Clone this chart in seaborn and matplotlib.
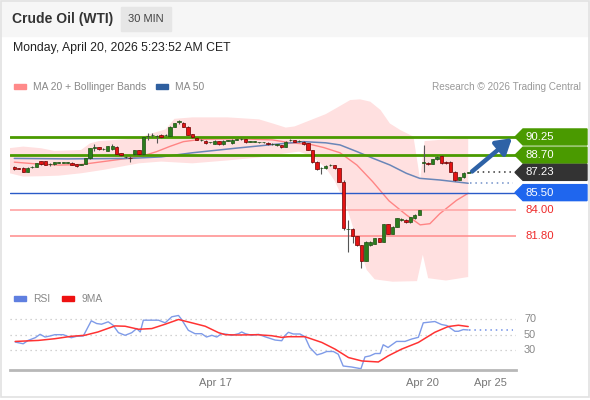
import numpy as np
import matplotlib
matplotlib.use("Agg")
import matplotlib.pyplot as plt
from matplotlib.patches import Rectangle, Polygon
import seaborn as sns

# --- 30 min candles (index 0..102) ---
opens = [87.69, 87.55, 87.63, 87.30, 87.66, 87.72, 88.17, 88.17, 87.92, 87.92,
         88.07, 88.07, 88.05, 88.06, 87.92, 87.90, 87.95, 88.43, 89.35, 89.37,
         89.20, 89.08, 89.20, 89.40, 88.86, 88.52, 88.45, 88.77, 89.14, 88.77,
         90.30, 90.40, 90.31, 90.42, 90.40, 90.33, 91.13, 91.52, 91.45, 91.13,
         90.50, 90.13, 89.98, 89.93, 89.78, 89.65, 89.90, 89.62, 89.93, 89.70,
         90.00, 90.04, 90.05, 89.85, 89.82, 89.79, 89.78, 89.76, 89.62, 89.56,
         89.56, 89.42, 89.97, 89.99, 89.88, 89.85, 89.70, 89.10, 88.15, 87.58,
         87.60, 87.84, 87.85, 87.58, 86.44, 82.38, 82.40, 81.80, 81.00, 79.70,
         81.04, 81.12, 81.60, 81.32, 82.80, 82.00, 82.60, 83.18, 83.20, 83.00,
         83.30, 83.60, 88.04, 88.06, 87.95, 88.35, 88.63, 88.15, 88.15, 87.30,
         86.60, 86.80, 87.21]
closes = [87.52, 87.53, 87.30, 87.63, 87.72, 88.00, 87.95, 87.86, 87.95, 88.09,
          88.09, 88.09, 88.07, 87.86, 87.78, 87.92, 88.43, 89.28, 89.37, 89.20,
          89.22, 89.48, 89.45, 88.82, 88.71, 88.54, 88.43, 89.14, 88.77, 90.22,
          90.33, 90.42, 90.33, 90.22, 90.42, 91.13, 91.40, 91.55, 91.13, 90.42,
          90.25, 90.02, 90.00, 89.72, 89.80, 89.93, 89.62, 89.93, 89.95, 90.02,
          90.02, 90.06, 89.78, 89.87, 89.84, 89.81, 89.80, 89.62, 89.64, 89.58,
          89.38, 89.85, 89.99, 89.82, 89.90, 89.62, 89.15, 88.10, 87.50, 87.60,
          87.80, 87.86, 87.58, 86.44, 82.46, 82.42, 81.80, 81.00, 79.70, 81.30,
          81.32, 81.60, 81.32, 82.80, 82.00, 82.60, 83.30, 83.22, 83.00, 83.40,
          83.60, 84.00, 88.08, 87.95, 88.35, 88.57, 88.00, 88.00, 87.30, 86.60,
          86.80, 87.20, 87.23]
highs = [87.80, 87.62, 87.68, 87.68, 87.80, 88.05, 88.20, 88.20, 88.00, 88.12,
         88.14, 88.14, 88.12, 88.10, 87.96, 87.98, 88.48, 89.32, 89.62, 89.42,
         89.28, 89.52, 89.62, 89.45, 88.90, 88.60, 88.62, 89.18, 89.18, 90.26,
         90.56, 90.58, 90.45, 90.50, 90.52, 91.18, 91.45, 91.68, 91.50, 91.16,
         90.54, 90.18, 90.06, 89.98, 89.86, 89.97, 89.94, 89.97, 90.02, 90.06,
         90.08, 90.12, 90.08, 89.92, 89.90, 89.86, 89.86, 89.80, 89.70, 89.64,
         89.60, 89.90, 90.06, 90.03, 89.96, 89.90, 89.74, 89.14, 88.18, 87.66,
         87.85, 87.92, 87.90, 87.62, 86.55, 83.15, 82.45, 81.84, 81.05, 81.35,
         81.38, 81.65, 81.65, 82.85, 82.85, 82.65, 83.35, 83.30, 83.25, 83.45,
         83.65, 84.05, 89.57, 88.12, 88.40, 88.62, 88.72, 88.20, 88.20, 87.35,
         86.85, 87.25, 87.28]
lows = [87.45, 87.48, 87.25, 87.27, 87.60, 87.68, 87.90, 87.82, 87.80, 87.88,
        88.02, 88.03, 88.00, 87.82, 87.72, 87.85, 87.92, 88.40, 89.08, 89.15,
        89.12, 89.05, 89.15, 88.78, 88.65, 88.42, 88.08, 88.74, 88.74, 88.74,
        90.00, 90.26, 89.76, 90.18, 90.32, 90.30, 91.10, 91.35, 91.10, 90.38,
        90.20, 89.98, 89.94, 89.68, 89.74, 89.62, 89.58, 89.60, 89.88, 89.66,
        89.95, 90.00, 89.74, 89.80, 89.78, 89.74, 89.74, 89.58, 89.56, 89.50,
        89.34, 89.38, 89.92, 89.78, 89.84, 89.58, 89.10, 88.05, 87.45, 87.05,
        87.55, 87.80, 87.54, 86.40, 82.30, 80.47, 81.18, 80.95, 79.05, 79.65,
        80.98, 81.08, 81.26, 81.28, 81.95, 81.95, 82.55, 83.10, 82.95, 82.95,
        83.25, 83.55, 87.30, 87.90, 87.92, 88.32, 87.96, 87.95, 87.25, 86.50,
        86.55, 86.75, 87.16]

# --- indicator lines (candle index, value) ---
ma20_x = [0, 5, 10, 15, 18, 22, 26, 29, 32, 35, 38, 42, 50, 58, 62, 66.5, 69.5,
          73.2, 77, 80.5, 84.2, 88.1, 91.2, 93.4, 95.6, 99.4, 102]
ma20_y = [88.1, 87.95, 87.85, 87.9, 88.05, 88.25, 88.45, 88.65, 89.0, 89.45, 89.85,
          90.05, 90.1, 90.0, 89.75, 89.62, 89.35, 88.9, 87.85, 86.45, 84.8, 83.6,
          82.75, 82.85, 83.7, 84.85, 85.45]
ma50_x = [0, 12, 26, 33, 40, 50, 58, 65, 70, 73.2, 77, 80.6, 84.4, 88.1, 91.1, 95.6, 102]
ma50_y = [88.42, 88.38, 88.42, 88.55, 88.9, 89.3, 89.6, 89.85, 89.75, 89.57, 89.0,
          88.43, 87.86, 87.15, 86.72, 86.58, 86.3]
bb_up_x = [-1, 2, 6, 9, 15, 17, 19, 23, 28, 30, 34, 36, 40, 48, 55, 58, 61, 63, 66,
           70, 73, 75.5, 77.7, 80, 82.3, 84.4, 86.7, 89.7, 91.2, 92.2, 95.6, 102]
bb_up_y = [89.3, 89.43, 89.29, 89.06, 89.14, 89.7, 89.9, 90.0, 90.15, 90.45, 90.9,
           91.8, 91.92, 91.92, 91.75, 91.41, 91.05, 91.15, 91.6, 92.2, 92.85, 93.4,
           93.46, 93.26, 92.55, 91.4, 90.85, 90.28, 86.6, 89.9, 90.0, 90.14]
bb_lo_x = [-1, 2, 6, 10, 15, 20, 28, 33, 40, 48, 55, 60, 64, 67, 70, 72, 74.7, 77,
           79.2, 81, 85, 90.5, 91.8, 93, 97, 102]
bb_lo_y = [87.15, 86.87, 86.9, 86.95, 87.15, 87.44, 88.0, 88.15, 88.0, 88.25, 88.5,
           88.8, 89.0, 88.6, 87.6, 86.5, 84.3, 81.46, 78.9, 78.1, 77.9, 77.95, 80.2,
           78.2, 78.0, 78.3]

rsi_x = [0.2, 2, 3.1, 4.7, 5.8, 6.9, 8, 9.1, 11, 12.8, 14, 15.5, 17.3, 18.5, 19.6,
         21.1, 22.2, 23.4, 24.9, 26.4, 27.5, 28.3, 29, 30.9, 32.4, 33.9, 35.4, 36.9,
         37.6, 39.1, 40.6, 42.1, 43.2, 44.4, 45.5, 46.6, 47.8, 48.9, 50.4, 51.1, 51.9,
         53.4, 54.9, 56.3, 58.6, 60.1, 60.8, 61.6, 62.7, 64.2, 65.3, 66.4, 68, 69.1,
         70.2, 71.7, 72.8, 73.9, 75.8, 77.9, 78.8, 79.9, 81.1, 82.2, 82.9, 84, 85.9,
         87.8, 89.3, 90.8, 91.9, 94.5, 96, 97.2, 99, 99.8, 100.9, 102]
rsi_y = [40.9, 38.7, 43.0, 46.5, 50.9, 47.4, 48.7, 50.4, 50.4, 46.5, 48.3, 48.7, 68.3,
         64.8, 63.9, 67.0, 62.6, 53.0, 49.6, 53.0, 58.3, 53.9, 69.1, 69.1, 69.1, 65.7,
         73.5, 75.2, 70.0, 56.1, 51.7, 51.7, 47.4, 49.6, 47.4, 51.7, 50.9, 49.6, 51.7,
         53.9, 51.7, 49.6, 50.9, 47.8, 43.5, 42.6, 49.1, 53.5, 51.3, 51.3, 47.8, 33.9,
         24.3, 26.1, 28.7, 28.7, 25.2, 10.0, 8.7, 6.5, 21.7, 23.0, 26.1, 26.1, 37.4,
         33.9, 41.7, 41.7, 44.8, 47.0, 65.7, 67.4, 63.5, 62.2, 54.8, 54.8, 57.0, 56.5]
ma9_x = [0.2, 5.4, 9.1, 12.8, 15.8, 18.8, 22.6, 24.9, 27.9, 30.9, 33.9, 36.9, 39.9,
         42.9, 45.9, 47.4, 50.4, 54.5, 57.8, 60.1, 61.6, 65.3, 69.1, 72.1, 75.1, 78.1,
         81.8, 84, 87, 90.8, 94.5, 97.5, 99.8, 102]
ma9_y = [41.7, 43.0, 45.2, 48.3, 49.6, 53.9, 61.7, 61.3, 57.4, 58.3, 63.9, 70.0, 65.7,
         61.3, 53.0, 50.4, 50.0, 50.4, 49.1, 46.9, 47.8, 47.8, 40.4, 31.7, 20.9, 16.5,
         15.2, 23.0, 31.7, 40.4, 53.5, 60.9, 62.6, 60.9]

levels = [90.25, 88.70, 87.23, 85.50, 84.00, 81.80]
rsi_levels = [70, 50, 30]
date_ticks = ["Apr 17", "Apr 20", "Apr 25"]
date_pos = [45.1, 91.8, 106.9]

sns.set_style("white")
plt.rcParams["font.family"] = ["Liberation Sans", "DejaVu Sans"]

W, H = 590, 400
fig = plt.figure(figsize=(W / 100, H / 100), dpi=100)


def px2i(px):
    return (px - 14.3) / 4.45


def fx(px):
    return px / W


def fy(py):
    return 1 - py / H


# header strip and frame
fig.patches.append(Rectangle((0, fy(36)), 1, 36 / H, transform=fig.transFigure,
                             color="#f6f6f6", zorder=0))
fig.patches.append(Rectangle((fx(121), fy(31)), 50 / W, 24 / H, transform=fig.transFigure,
                             color="#e6e6e6", zorder=1))
fig.patches.append(Rectangle((fx(0.5), fy(397)), 588 / W, 396.5 / H, transform=fig.transFigure,
                             fill=False, edgecolor="#e2e2e2", lw=1.2, zorder=1))
fig.text(fx(12), fy(19), "Crude Oil (WTI)", fontsize=10, fontweight="bold", color="#333333", va="center")
fig.text(fx(146), fy(19), "30 MIN", fontsize=8, color="#444444", va="center", ha="center")
fig.text(fx(13), fy(48), "Monday, April 20, 2026 5:23:52 AM CET", fontsize=8.8, color="#222222", va="center")

fig.patches.append(Rectangle((fx(14), fy(89)), 12 / W, 5 / H, transform=fig.transFigure, color="#ff8a8a"))
fig.text(fx(33), fy(86.5), "MA 20 + Bollinger Bands", fontsize=7.4, color="#888888", va="center")
fig.patches.append(Rectangle((fx(156), fy(89)), 12 / W, 5 / H, transform=fig.transFigure, color="#2f5f9f"))
fig.text(fx(175), fy(86.5), "MA 50", fontsize=7.4, color="#888888", va="center")
fig.text(fx(581), fy(86.5), "Research \u00a9 2026 Trading Central", fontsize=7.2, color="#999999",
         va="center", ha="right")

fig.patches.append(Rectangle((fx(14), fy(301)), 12 / W, 5 / H, transform=fig.transFigure, color="#5f7fe0"))
fig.text(fx(33), fy(298.5), "RSI", fontsize=7.4, color="#888888", va="center")
fig.patches.append(Rectangle((fx(62), fy(301)), 12 / W, 5 / H, transform=fig.transFigure, color="#ee1111"))
fig.text(fx(81), fy(298.5), "9MA", fontsize=7.4, color="#888888", va="center")

# ---- price panel ----
ax = fig.add_axes([fx(10), fy(283), 506 / W, 188 / H])
ax.set_xlim(px2i(10), px2i(516))
ax.set_ylim(77.79, 93.83)
ax.axis("off")

band = np.column_stack([bb_up_x + bb_lo_x[::-1], bb_up_y + bb_lo_y[::-1]])
ax.add_patch(Polygon(band, closed=True, color="#ffe0e0", lw=0, zorder=1))
sns.lineplot(x=ma20_x, y=ma20_y, ax=ax, color="#ff8585", lw=1.0, sort=False, estimator=None, zorder=2)
sns.lineplot(x=ma50_x, y=ma50_y, ax=ax, color="#6a86b8", lw=1.1, sort=False, estimator=None, zorder=2)

ax.axhline(levels[0], color="#4a9a00", lw=2, zorder=2)
ax.axhline(levels[1], color="#4a9a00", lw=2, zorder=2)
ax.axhline(levels[3], color="#2a5bc8", lw=1, zorder=2)
ax.axhline(levels[4], color="#ffb0b0", lw=1.4, zorder=2)
ax.axhline(levels[5], color="#ff8a8a", lw=1.1, zorder=2)

idx = np.arange(len(opens))
o = np.array(opens)
c = np.array(closes)
up = c >= o
lo_b = np.minimum(o, c)
h_b = np.maximum(np.abs(c - o), 0.05)
ax.vlines(idx, lows, highs, color="#555555", lw=0.8, zorder=3)
ax.bar(idx[up], h_b[up], bottom=lo_b[up], width=0.75, color="#2a7d1c",
       edgecolor="#1d4f14", lw=0.5, zorder=4)
ax.bar(idx[~up], h_b[~up], bottom=lo_b[~up], width=0.75, color="#e41313",
       edgecolor="#6e0000", lw=0.5, zorder=4)

# dotted extensions
ax.plot([px2i(472), px2i(513)], [closes[-1], closes[-1]], ls=(0, (1, 2.5)), color="#333333", lw=1.1)
ax.plot([px2i(470), px2i(513)], [ma50_y[-1], ma50_y[-1]], ls=(0, (1, 2.5)), color="#7090c8", lw=1.1)

ax.annotate("", xy=(px2i(512), 90.15), xytext=(px2i(472), 87.30), annotation_clip=False,
            arrowprops=dict(arrowstyle="-|>,head_length=0.9,head_width=0.55", color="#2e62a6",
                            lw=3.2, shrinkA=0, shrinkB=0))

hh = 8 / 11.72
tags = [(levels[0], "#4a9a00"), (levels[1], "#4a9a00"), (levels[2], "#333333"), (levels[3], "#1f66ee")]
for val, col in tags:
    poly = [(px2i(515), val), (px2i(523), val + hh), (px2i(587), val + hh),
            (px2i(587), val - hh), (px2i(523), val - hh)]
    ax.add_patch(Polygon(poly, closed=True, color=col, clip_on=False, zorder=5))
    ax.text(px2i(525), val, f"{val:.2f}", color="white", fontsize=8.2, va="center", ha="left",
            clip_on=False, zorder=6)
for val in levels[4:]:
    ax.text(px2i(525), val, f"{val:.2f}", color="#ee2a2a", fontsize=8.2, va="center", ha="left",
            clip_on=False)

# ---- RSI panel ----
ax2 = fig.add_axes([fx(10), fy(370), 506 / W, 65 / H])
ax2.set_xlim(px2i(10), px2i(516))
ax2.set_ylim(4.84, 88.7)
for s in ["top", "left", "right"]:
    ax2.spines[s].set_visible(False)
ax2.spines["bottom"].set_color("#b8b8b8")
ax2.spines["bottom"].set_linewidth(2)
ax2.set_yticks([])
for lv in rsi_levels:
    ax2.axhline(lv, color="#c4c4c4", lw=0.9, ls=(0, (1, 3)))
    ax2.text(px2i(524), lv, str(lv), color="#888888", fontsize=7.8, va="center", ha="left", clip_on=False)
sns.lineplot(x=rsi_x, y=rsi_y, ax=ax2, color="#7f9be8", lw=1.0, sort=False, estimator=None)
sns.lineplot(x=ma9_x, y=ma9_y, ax=ax2, color="#ff3333", lw=1.1, sort=False, estimator=None)
ax2.plot([px2i(469), px2i(513)], [rsi_y[-1], rsi_y[-1]], ls=(0, (1, 2.5)), color="#6f8fe6", lw=1.1)
ax2.set_xticks(date_pos)
ax2.set_xticklabels(date_ticks, fontsize=8, color="#777777")
ax2.tick_params(axis="x", length=0, pad=6)
ax2.set_xticks([px2i(11), px2i(515.5)], minor=True)
ax2.tick_params(axis="x", which="minor", length=5, width=2, color="#b8b8b8", direction="out")
ax2.set_xlabel("")
ax2.set_ylabel("")

fig.savefig("out.png", dpi=100)
